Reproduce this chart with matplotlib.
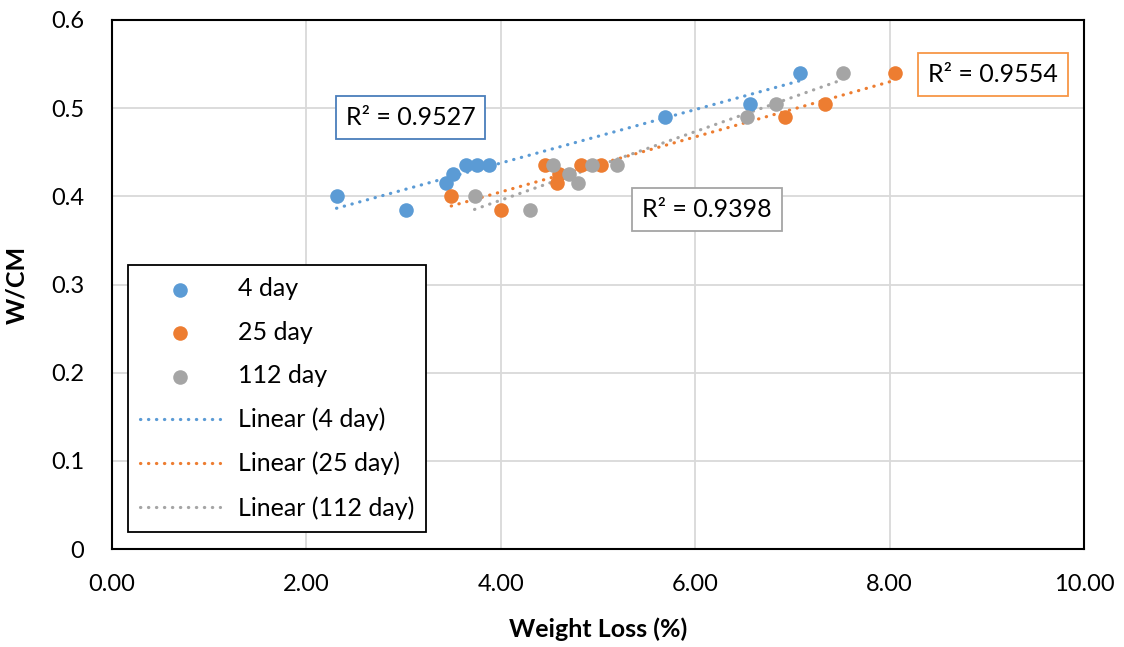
import matplotlib.pyplot as plt
import numpy as np

plt.rcParams['font.family'] = ['Lato', 'DejaVu Sans']

# W/CM values (same for each age)
wcm = [0.40, 0.385, 0.415, 0.425, 0.435, 0.435, 0.435, 0.49, 0.505, 0.54]

# weight loss (%) per age
loss_4 = [2.31, 3.02, 3.44, 3.51, 3.64, 3.76, 3.88, 5.69, 6.56, 7.08]
loss_25 = [3.49, 4.00, 4.58, 4.60, 4.45, 4.83, 5.03, 6.92, 7.34, 8.06]
loss_112 = [3.73, 4.30, 4.79, 4.70, 4.54, 4.94, 5.20, 6.53, 6.83, 7.52]

labels = ["4 day", "25 day", "112 day"]
r2_text = ["R² = 0.9527", "R² = 0.9554", "R² = 0.9398"]
r2_pos = [(3.07, 0.489), (9.06, 0.538), (6.12, 0.385)]

colors = ["#5B9BD5", "#ED7D31", "#A5A5A5"]
box_edges = ["#4A7EBB", "#F79646", "#A5A5A5"]

fig = plt.figure(figsize=(11.24, 6.47), dpi=100)
ax = fig.add_axes([112/1124, 1 - 549/647, 972/1124, 529/647])

series = [loss_4, loss_25, loss_112]
for xs, lab, c in zip(series, labels, colors):
    ax.scatter(xs, wcm, s=110, color=c, label=lab, zorder=3, linewidths=0)

for xs, lab, c in zip(series, labels, colors):
    k, b = np.polyfit(xs, wcm, 1)
    xx = np.array([min(xs), max(xs)])
    ax.plot(xx, k * xx + b, color=c, lw=2.3, linestyle=(0, (0.1, 2.4)),
            dash_capstyle='round', label="Linear (" + lab + ")", zorder=2)

for txt, (px, py), ec in zip(r2_text, r2_pos, box_edges):
    ax.text(px, py, txt, fontsize=18, ha='center', va='center', zorder=5,
            bbox=dict(boxstyle='square,pad=0.4', fc='white', ec=ec, lw=1.3))

ax.set_xlim(0, 10)
ax.set_ylim(0, 0.6)
ax.set_xticks(np.arange(0, 10.01, 2))
ax.set_xticklabels(["%.2f" % v for v in np.arange(0, 10.01, 2)])
ax.set_yticks(np.arange(0, 0.61, 0.1))
ax.set_yticklabels(["0"] + ["%.1f" % v for v in np.arange(0.1, 0.61, 0.1)])
ax.tick_params(axis='x', length=0, labelsize=17, pad=18)
ax.tick_params(axis='y', length=0, labelsize=17, pad=20)
ax.grid(True, color="#D9D9D9", lw=1.3)
ax.set_axisbelow(True)
for s in ax.spines.values():
    s.set_linewidth(1.5)
    s.set_color('black')

ax.set_xlabel("Weight Loss (%)", fontsize=18, fontweight='bold', labelpad=16)
ax.set_ylabel("W/CM", fontsize=18, fontweight='bold', labelpad=16)

leg = ax.legend(loc='lower left', bbox_to_anchor=(0.016, 0.032), borderaxespad=0,
                fontsize=18, frameon=True, fancybox=False, edgecolor='black',
                framealpha=1, handlelength=3.2, labelspacing=0.82, borderpad=0.5,
                handletextpad=0.7)
leg.get_frame().set_linewidth(1.3)

plt.savefig("out.png", dpi=100)
